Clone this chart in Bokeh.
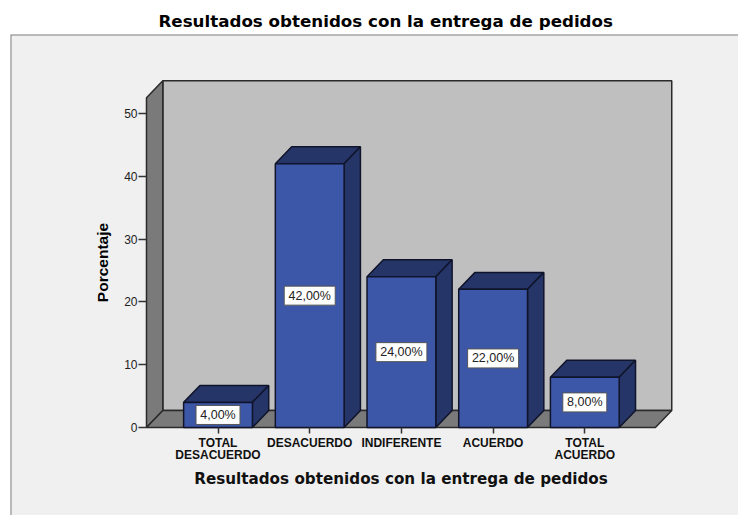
from bokeh.plotting import figure
from bokeh.models import LinearAxis, FixedTicker, Range1d, ColumnDataSource
from bokeh.core.properties import value
from bokeh.embed import file_html
from bokeh.resources import INLINE

title = "Resultados obtenidos con la entrega de pedidos"
x_title = "Resultados obtenidos con la entrega de pedidos"
y_title = "Porcentaje"
categories = ["TOTAL\nDESACUERDO", "DESACUERDO", "INDIFERENTE", "ACUERDO", "TOTAL\nACUERDO"]
values = [4, 42, 24, 22, 8]
labels = ["4,00%", "42,00%", "24,00%", "22,00%", "8,00%"]
y_ticks = [0, 10, 20, 30, 40, 50]

FONT = "Liberation Sans"
WIDE = "DejaVu Sans"
BW = 0.375      # half bar width
DX, DY = 0.178, 2.7   # 3D depth
XL, XR, YT = -0.78, 4.77, 52.5
FRONT, SIDE = "#3d57a8", "#263568"
WALL, SHADE, EDGE = "#bfbfbf", "#7a7a7a", "#2a2a2a"

p = figure(width=738, height=515, output_backend="svg", toolbar_location=None,
           x_range=Range1d(-2.263, 5.676), y_range=Range1d(-14.01, 62.58),
           x_axis_location=None, y_axis_location=None,
           min_border_left=10, min_border_right=0, min_border_top=34, min_border_bottom=0,
           background_fill_color="#f0f0f0", border_fill_color="white")
p.grid.visible = False
p.outline_line_color = None

p.title.text = title
p.title.align = "left"
p.title.offset = 148
p.title.text_font = WIDE
p.title.text_font_size = "16.7px"
p.title.text_font_style = "bold"
p.title.text_color = "black"
p.title.standoff = 8

# panel border (left and top only)
x0, x1 = p.x_range.start, p.x_range.end
y0, y1 = p.y_range.start, p.y_range.end
p.line([x0, x0, x1], [y0, y1, y1], line_color="#808080", line_width=2)

# chart box walls
p.patch([XL+DX, XR+DX, XR+DX, XL+DX], [DY, DY, YT+DY, YT+DY], fill_color=WALL, line_color=EDGE, line_width=1.5)
p.patch([XL, XL+DX, XL+DX, XL], [0, DY, YT+DY, YT], fill_color=SHADE, line_color=EDGE, line_width=1.5)
p.patch([XL, XR, XR+DX, XL+DX], [0, 0, DY, DY], fill_color=SHADE, line_color=EDGE, line_width=1.5)

# bars
for i, v in enumerate(values):
    l, r = i - BW, i + BW
    p.patch([l, l+DX, r+DX, r], [v, v+DY, v+DY, v], fill_color=SIDE, line_color="#10142a", line_width=1.5)
    p.patch([r, r+DX, r+DX, r], [0, DY, v+DY, v], fill_color=SIDE, line_color="#10142a", line_width=1.5)
    p.patch([l, r, r, l], [0, 0, v, v], fill_color=FRONT, line_color="#10142a", line_width=1.5)

# data labels
src = ColumnDataSource(dict(x=list(range(len(values))), y=[v/2 for v in values], t=labels,
                            w=[7*len(s)+9 for s in labels]))
p.rect("x", "y", width="w", height=19, width_units="screen", height_units="screen", source=src,
       fill_color="white", line_color="#555555", line_width=1)
p.text("x", "y", text="t", source=src, text_align="center", text_baseline="middle",
       text_font=value(FONT), text_font_size="12.5px", text_color="#222222")

# axes
ya = LinearAxis(fixed_location=XL, ticker=FixedTicker(ticks=y_ticks), bounds=(0, YT),
                axis_line_color=None, major_tick_in=0, major_tick_out=8, minor_tick_line_color=None,
                major_tick_line_color="#333333", major_tick_line_width=1.5,
                major_label_text_font=FONT, major_label_text_font_size="12px",
                major_label_text_color="#222222", major_label_standoff=1,
                axis_label=y_title, axis_label_text_font=FONT, axis_label_text_font_size="15.5px",
                axis_label_text_font_style="bold", axis_label_text_color="black", axis_label_standoff=10)
p.add_layout(ya, "left")

xa = LinearAxis(fixed_location=0, ticker=FixedTicker(ticks=list(range(len(categories)))), bounds=(XL, XR),
                major_label_overrides={i: c for i, c in enumerate(categories)},
                axis_line_color=None, major_tick_in=0, major_tick_out=6, minor_tick_line_color=None,
                major_tick_line_color="#333333", major_tick_line_width=1.5,
                major_label_text_font=FONT, major_label_text_font_size="12px", major_label_text_line_height=0.92,
                major_label_text_font_style="bold", major_label_text_color="#111111", major_label_standoff=2,
                axis_label=x_title, axis_label_text_font=WIDE, axis_label_text_font_size="15.2px",
                axis_label_text_font_style="bold", axis_label_text_color="#111111", axis_label_standoff=5,
                )
p.add_layout(xa, "below")

open("out.html", "w").write(file_html(p, INLINE))
